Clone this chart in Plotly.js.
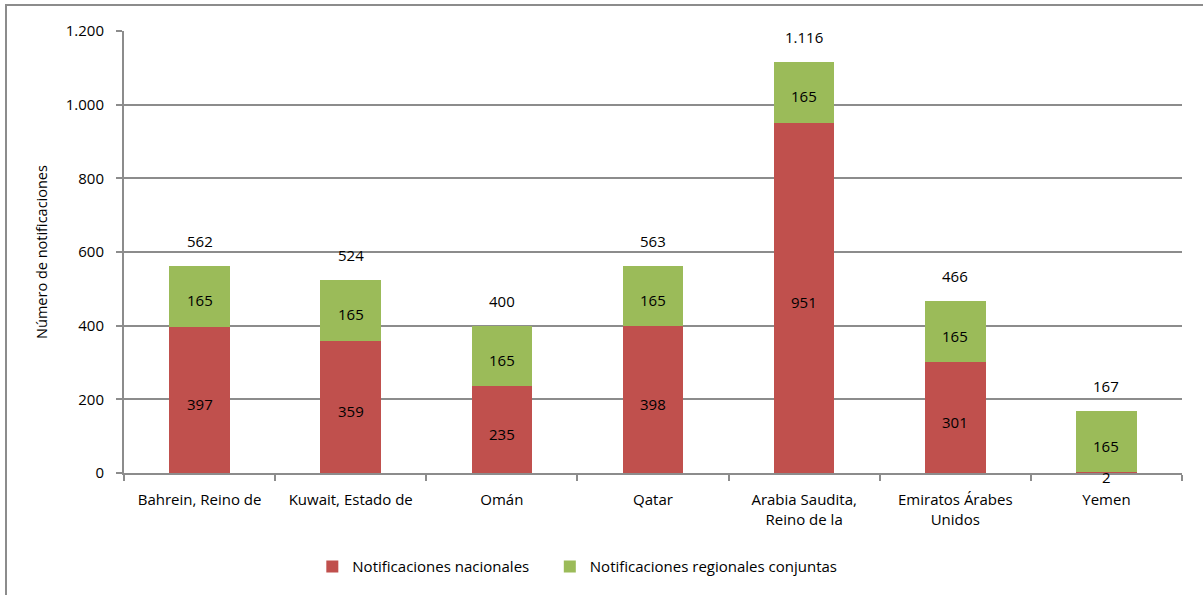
<!DOCTYPE html>
<html>
<head>
<meta charset="utf-8">
<script src="https://cdn.plot.ly/plotly-3.0.1.min.js"></script>
<style>
html,body{margin:0;padding:0;background:#fff;}
#frame{position:absolute;left:5px;top:4px;width:1300px;height:700px;border-left:2px solid #8c8c8c;border-top:2px solid #8c8c8c;box-sizing:border-box;pointer-events:none;z-index:5;}
#chart{position:absolute;left:0;top:0;width:1203px;height:595px;}
</style>
</head>
<body>
<div id="chart"></div>
<div id="frame"></div>
<script>
const categories = ["Bahrein, Reino de", "Kuwait, Estado de", "Omán", "Qatar", "Arabia Saudita,<br>Reino de la", "Emiratos Árabes<br>Unidos", "Yemen"];
const nacionales = [397, 359, 235, 398, 951, 301, 2];
const regionales = [165, 165, 165, 165, 165, 165, 165];
const seriesNames = ["Notificaciones nacionales", "Notificaciones regionales conjuntas"];
const totales = nacionales.map((v, i) => v + regionales[i]);
const yTicks = [0, 200, 400, 600, 800, 1000, 1200];

const fontFam = "'Open Sans', 'Liberation Sans', sans-serif";
const FS = 15;
const fmt = v => v.toLocaleString('de-DE');

const traces = [
  {
    type: 'bar', name: seriesNames[0] + '\u00a0\u00a0\u00a0\u00a0', x: categories, y: nacionales,
    marker: {color: '#C0504D'}, hoverinfo: 'none'
  },
  {
    type: 'bar', name: seriesNames[1], x: categories, y: regionales,
    marker: {color: '#9BBB59'}, hoverinfo: 'none'
  }
];

const lab = (x, y, t, opts) => Object.assign({
  x: x, y: y, xref: 'x', yref: 'y', text: t, showarrow: false,
  font: {family: fontFam, size: FS, color: '#000'}
}, opts);

const annotations = [];
categories.forEach((c, i) => {
  annotations.push(lab(c, nacionales[i] / 2, fmt(nacionales[i]), {yanchor: 'middle', yshift: -4}));
  annotations.push(lab(c, nacionales[i] + regionales[i] / 2, fmt(regionales[i]), {yanchor: 'middle', yshift: -4}));
  annotations.push(lab(c, totales[i], fmt(totales[i]), {yanchor: 'bottom', yshift: 13}));
});

const layout = {
  width: 1203, height: 595,
  margin: {l: 124, r: 21, t: 31, b: 122},
  barmode: 'stack', bargap: 0.6,
  separators: ',.',
  paper_bgcolor: '#fff', plot_bgcolor: '#fff',
  font: {family: fontFam, size: FS, color: '#000'},
  showlegend: true,
  annotations: annotations,
  legend: {orientation: 'h', x: 0.178, xanchor: 'left', y: -0.175, yanchor: 'top',
           font: {family: fontFam, size: FS, color: '#000'}, traceorder: 'normal', itemwidth: 30},
  xaxis: {
    type: 'category', showgrid: false, showline: true, linecolor: '#8c8c8c', linewidth: 2,
    ticks: 'outside', tickson: 'boundaries', ticklen: 6, tickcolor: '#8c8c8c', tickwidth: 2,
    ticklabelstandoff: 12,
    tickfont: {family: fontFam, size: FS, color: '#000'}, fixedrange: true
  },
  yaxis: {
    range: [0, 1200], tickvals: yTicks, ticktext: yTicks.map(fmt),
    showgrid: true, gridcolor: '#8c8c8c', gridwidth: 2,
    showline: true, linecolor: '#8c8c8c', linewidth: 2,
    ticks: 'outside', ticklen: 6, tickcolor: '#8c8c8c', tickwidth: 2,
    ticklabelstandoff: 9,
    zeroline: false,
    tickfont: {family: fontFam, size: FS, color: '#000'},
    title: {text: 'Número de notificaciones', font: {family: fontFam, size: 14.5, color: '#000'}, standoff: 15},
    fixedrange: true
  }
};

Plotly.newPlot('chart', traces, layout, {displayModeBar: false, staticPlot: true});
</script>
</body>
</html>
